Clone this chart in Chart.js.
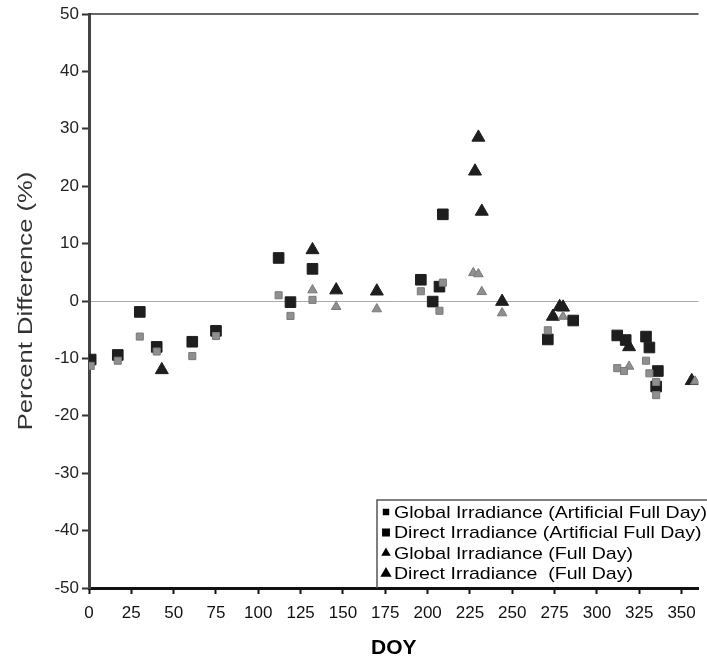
<!DOCTYPE html>
<html>
<head>
<meta charset="utf-8">
<script src="https://cdn.jsdelivr.net/npm/chart.js@4.4.1/dist/chart.umd.min.js"></script>
<style>
  html, body { margin: 0; padding: 0; background: #fff; }
  #wrap { width: 707px; height: 661px; }
</style>
</head>
<body>
<div id="wrap"><canvas id="myChart" width="707" height="661"></canvas></div>
<script>
// day of year + percent difference
const globalAfdDay = [1, 17, 30, 40, 61, 75, 112, 119, 132, 196, 207, 209, 271, 312, 316, 329, 331, 335, 335]
const globalAfdPct = [-11.3, -10.4, -6.2, -8.8, -9.6, -6.1, 1.0, -2.6, 0.2, 1.7, -1.7, 3.2, -5.1, -11.7, -12.2, -10.4, -12.6, -14.1, -16.4]

const directAfdDay = [1, 17, 30, 40, 61, 75, 112, 119, 132, 196, 203, 207, 209, 271, 286, 312, 317, 329, 331, 336, 335]
const directAfdPct = [-10.2, -9.4, -1.9, -8.0, -7.1, -5.2, 7.5, -0.2, 5.6, 3.7, -0.1, 2.5, 15.1, -6.7, -3.4, -6.0, -6.8, -6.2, -8.1, -12.2, -14.9]

const globalFdDay = [132, 146, 170, 227, 230, 232, 244, 280, 319, 358]
const globalFdPct = [1.9, -1.0, -1.4, 4.9, 4.7, 1.6, -2.1, -2.7, -11.4, -14.0]

const directFdDay = [43, 132, 146, 170, 228, 230, 232, 244, 274, 278, 280, 319, 356]
const directFdPct = [-12.0, 8.9, 1.9, 1.7, 22.6, 28.5, 15.6, -0.1, -2.7, -1.0, -1.1, -8.0, -13.9]

const seriesNames = [
  'Global Irradiance (Artificial Full Day)',
  'Direct Irradiance (Artificial Full Day)',
  'Global Irradiance (Full Day)',
  'Direct Irradiance  (Full Day)'
]

const xTicks = [0, 25, 50, 75, 100, 125, 150, 175, 200, 225, 250, 275, 300, 325, 350]
const yTicks = [-50, -40, -30, -20, -10, 0, 10, 20, 30, 40, 50]
const yTitle = 'Percent Difference (%)'

const pairs = (xs, ys) => xs.map((x, i) => ({ x: x, y: ys[i] }))

const FONT = "'Liberation Sans', Arial, sans-serif"
const DARK = '#1e1e1e'
const GRAY = '#8f8f8f'

const datasets = [
  { label: seriesNames[0], data: pairs(globalAfdDay, globalAfdPct), pointStyle: 'rect', pointRadius: 5, backgroundColor: GRAY, borderColor: '#7a7a7a', borderWidth: 1 },
  { label: seriesNames[1], data: pairs(directAfdDay, directAfdPct), pointStyle: 'rect', pointRadius: 7.5, backgroundColor: DARK, borderColor: DARK, borderWidth: 1 },
  { label: seriesNames[2], data: pairs(globalFdDay, globalFdPct), pointStyle: 'triangle', pointRadius: 5.5, backgroundColor: GRAY, borderColor: '#7a7a7a', borderWidth: 1 },
  { label: seriesNames[3], data: pairs(directFdDay, directFdPct), pointStyle: 'triangle', pointRadius: 7.5, backgroundColor: DARK, borderColor: DARK, borderWidth: 1 }
]

// top frame line, y title and boxed legend in the lower right corner
const framePlugin = {
  id: 'frame',
  afterDraw: (chart) => {
    const c = chart.ctx
    const area = chart.chartArea
    c.save()
    c.strokeStyle = '#333'
    c.lineWidth = 1.5
    c.beginPath()
    c.moveTo(area.left, area.top)
    c.lineTo(area.right, area.top)
    c.stroke()

    // y axis title, a bit wide like the scan
    c.save()
    c.translate(26, (area.top + area.bottom) / 2)
    c.rotate(-Math.PI / 2)
    c.scale(1.22, 1)
    c.font = '21px ' + FONT
    c.textAlign = 'center'
    c.textBaseline = 'middle'
    c.fillStyle = '#333'
    c.fillText(yTitle, 0, 0)
    c.restore()

    // legend box
    const bx = 377, by = 500
    c.strokeStyle = '#555'
    c.lineWidth = 1.5
    c.beginPath()
    c.moveTo(bx, area.bottom)
    c.lineTo(bx, by)
    c.lineTo(chart.width, by)
    c.stroke()

    const sizes = [3.5, 4.5, 4, 5]
    chart.data.datasets.forEach((ds, i) => {
      const ly = 512 + i * 20.5
      c.fillStyle = '#000'
      c.strokeStyle = '#000'
      Chart.helpers.drawPoint(c, { pointStyle: ds.pointStyle, radius: sizes[i], borderWidth: 1 }, 386, ly)
      c.save()
      c.translate(394, ly)
      c.scale(1.15, 1)
      c.font = '17px ' + FONT
      c.textBaseline = 'middle'
      c.fillStyle = '#000'
      c.fillText(ds.label, 0, 1)
      c.restore()
    })
    c.restore()
  }
}

const ctx = document.getElementById('myChart').getContext('2d')
new Chart(ctx, {
  type: 'scatter',
  data: { datasets: datasets },
  plugins: [framePlugin],
  options: {
    responsive: false,
    animation: false,
    layout: { padding: { top: 14, right: 7, left: 0, bottom: 0 } },
    plugins: {
      legend: { display: false },
      tooltip: { enabled: false }
    },
    scales: {
      x: {
        type: 'linear',
        min: 0,
        max: 360,
        afterFit: (scale) => { scale.height = 73 },
        afterBuildTicks: (scale) => { scale.ticks = xTicks.map(v => ({ value: v })) },
        ticks: { color: '#111', font: { family: FONT, size: 17 }, padding: 9, maxRotation: 0 },
        grid: { drawOnChartArea: false, color: '#111', tickLength: 6, tickWidth: 2 },
        border: { color: '#111', width: 3 },
        title: { display: true, text: 'DOY', color: '#000', font: { family: FONT, size: 21, weight: 'bold' }, padding: { top: 0, bottom: 0 } }
      },
      y: {
        min: -50,
        max: 50,
        afterFit: (scale) => { scale.width = 89 },
        afterBuildTicks: (scale) => { scale.ticks = yTicks.map(v => ({ value: v })) },
        ticks: { color: '#222', font: { family: FONT, size: 17 }, padding: 3 },
        grid: {
          color: (c) => c.tick && c.tick.value === 0 ? '#aaa' : 'rgba(0,0,0,0)',
          tickColor: '#333',
          tickLength: 7,
          tickWidth: 2,
          lineWidth: 1
        },
        border: { color: '#444', width: 3 },
        title: { display: false }
      }
    }
  }
})
</script>
</body>
</html>
